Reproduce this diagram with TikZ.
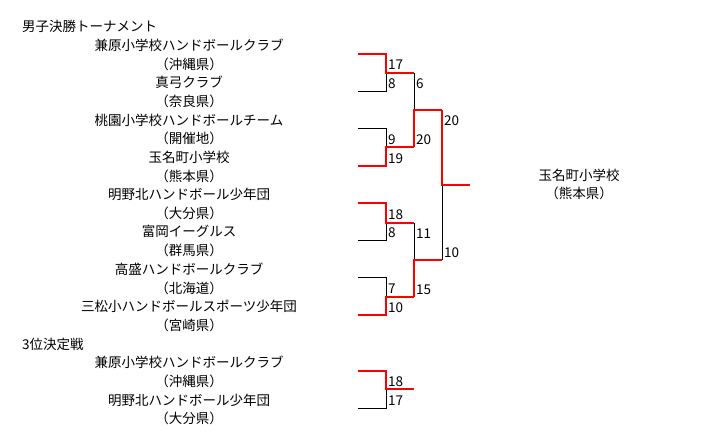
\documentclass[tikz,border=0pt]{standalone}
\usepackage{fontspec}
\setmainfont{Noto Sans CJK JP}
\usetikzlibrary{positioning,calc}

\tikzset{
  team/.style={font=\fontsize{13.5}{15}\selectfont, inner sep=0pt},
  score/.style={font=\fontsize{13.5}{15}\selectfont, anchor=west, inner sep=0pt},
  lose/.style={draw=black, line width=1pt},
  win/.style={draw=red, line width=2pt},
}

\begin{document}
\begin{tikzpicture}[x=1pt,y=-1pt]
    \useasboundingbox (0,0) rectangle (707,432);

    % Headings
    \node[team, anchor=west] (head1) at (22,26.5) {男子決勝トーナメント};
    \node[team, anchor=west] (head2) at (22,343.9) {3位決定戦};

    % Teams and their entry lines
    \foreach \name/\pref [count=\i from 0] in {兼原小学校ハンドボールクラブ/沖縄県, 真弓クラブ/奈良県,
        桃園小学校ハンドボールチーム/開催地, 玉名町小学校/熊本県, 明野北ハンドボール少年団/大分県,
        富岡イーグルス/群馬県, 高盛ハンドボールクラブ/北海道, 三松小ハンドボールスポーツ少年団/宮崎県} {
        \node[team] (n\i) at (189,{45.2+37.33*\i}) {\name};
        \node[team] (p\i) at (189,{63.9+37.33*\i}) {（\pref）};
        \coordinate (a\i) at (358,{54+37.33*\i});
        \coordinate (b\i) at (386,{54+37.33*\i});
    }

    % Junctions
    \foreach \j/\y in {1/72.7, 2/147.3, 3/222.7, 4/297.3} {
        \coordinate (m\j) at (386,\y);
        \coordinate (e\j) at (414,\y);
    }
    \coordinate (s1) at (414,110);   \coordinate (f1) at (442,110);
    \coordinate (s2) at (414,260);   \coordinate (f2) at (442,260);
    \coordinate (fin) at (442,185);  \coordinate (champend) at (470,185);

    % Losers
    \draw[lose] (a1) -- (b1) -- (m1);
    \draw[lose] (a2) -- (b2) -- (m2);
    \draw[lose] (a5) -- (b5) -- (m3);
    \draw[lose] (a6) -- (b6) -- (m4);
    \draw[lose] (e1) -- (s1);
    \draw[lose] (e3) -- (s2);
    \draw[lose] (f2) -- (fin);

    % Winners
    \draw[win] (a0) -- (b0) -- (m1) -- (e1);
    \draw[win] (a3) -- (b3) -- (m2) -- (e2);
    \draw[win] (a4) -- (b4) -- (m3) -- (e3);
    \draw[win] (a7) -- (b7) -- (m4) -- (e4);
    \draw[win] (e2) -- (s1) -- (f1);
    \draw[win] (e4) -- (s2) -- (f2);
    \draw[win] (f1) -- (fin) -- (champend);

    % Scores
    \node[score] (sc1t) at ($(b0)+(2,11)$) {17};
    \node[score] (sc1b) at ($(b1)+(2,-7.5)$) {8};
    \node[score] (sc2t) at ($(b2)+(2,11)$) {9};
    \node[score] (sc2b) at ($(b3)+(2,-7.5)$) {19};
    \node[score] (sc3t) at ($(b4)+(2,11)$) {18};
    \node[score] (sc3b) at ($(b5)+(2,-7.5)$) {8};
    \node[score] (sc4t) at ($(b6)+(2,11)$) {7};
    \node[score] (sc4b) at ($(b7)+(2,-7.5)$) {10};
    \node[score] (sc5t) at ($(e1)+(2,11)$) {6};
    \node[score] (sc5b) at ($(e2)+(2,-7.5)$) {20};
    \node[score] (sc6t) at ($(e3)+(2,11)$) {11};
    \node[score] (sc6b) at ($(e4)+(2,-7.5)$) {15};
    \node[score] (sc7t) at ($(f1)+(2,11)$) {20};
    \node[score] (sc7b) at ($(f2)+(2,-7.5)$) {10};

    % Champion
    \node[team] (champ) at (579,175) {玉名町小学校};
    \node[team] (champp) at (579,193.5) {（熊本県）};

    % Third place match
    \node[team] (tn0) at (189,362.6) {兼原小学校ハンドボールクラブ};
    \node[team] (tp0) at (189,381.2) {（沖縄県）};
    \node[team] (tn1) at (189,399.9) {明野北ハンドボール少年団};
    \node[team] (tp1) at (189,418.6) {（大分県）};
    \coordinate (c0) at (358,370.7);  \coordinate (d0) at (386,370.7);
    \coordinate (c1) at (358,408);    \coordinate (d1) at (386,408);
    \coordinate (tm) at (386,389.3);  \coordinate (te) at (414,389.3);
    \draw[lose] (c1) -- (d1) -- (tm);
    \draw[win] (c0) -- (d0) -- (tm) -- (te);
    \node[score] (sc8t) at ($(d0)+(2,11)$) {18};
    \node[score] (sc8b) at ($(d1)+(2,-7.5)$) {17};
\end{tikzpicture}
\end{document}
